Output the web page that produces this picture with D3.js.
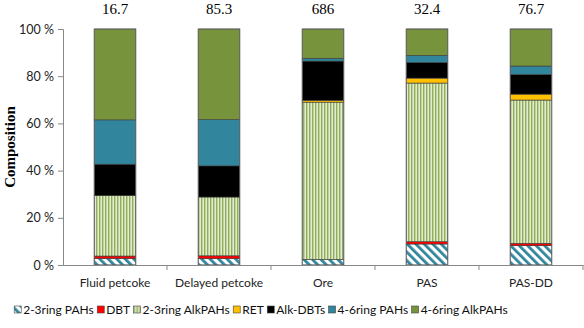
<!DOCTYPE html>
<html>
<head>
<meta charset="utf-8">
<script src="https://cdn.jsdelivr.net/npm/d3@7"></script>
<style>
  body { margin: 0; background: #fff; }
  text { font-family: Lato, "Open Sans", sans-serif; }
</style>
</head>
<body>
<div id="chart"></div>
<script>
// data
const categories = ["Fluid petcoke", "Delayed petcoke", "Ore", "PAS", "PAS-DD"];
const totals = ["16.7", "85.3", "686", "32.4", "76.7"];
const seriesNames = ["2-3ring PAHs", "DBT", "2-3ring AlkPAHs", "RET", "Alk-DBTs", "4-6ring PAHs", "4-6ring AlkPAHs"];
const ring23PAHs    = [2.7, 2.7, 2.4, 8.9, 8.2];
const dbt           = [1.1, 1.2, 0.0, 1.0, 1.0];
const ring23AlkPAHs = [25.6, 24.9, 66.6, 67.2, 60.7];
const ret           = [0.1, 0.0, 0.8, 2.1, 2.5];
const alkDBTs       = [13.2, 13.2, 16.6, 6.6, 8.3];
const ring46PAHs    = [18.8, 19.6, 1.2, 3.0, 3.6];
const ring46AlkPAHs = [38.5, 38.4, 12.4, 11.2, 15.7];
const yTicks = [0, 20, 40, 60, 80, 100];

const seriesValues = [ring23PAHs, dbt, ring23AlkPAHs, ret, alkDBTs, ring46PAHs, ring46AlkPAHs];
const fills = ["url(#hatch)", "#ff0000", "url(#vstripe)", "#ffc000", "#000000", "#31859c", "#77933c"];

const W = 584, H = 328;
const margin = {top: 29, right: 1, bottom: 63, left: 63};
const width = W - margin.left - margin.right;
const height = H - margin.top - margin.bottom;

const svg = d3.select("#chart").append("svg")
    .attr("width", W)
    .attr("height", H);

// patterns
const defs = svg.append("defs");
const hatch = defs.append("pattern")
    .attr("id", "hatch")
    .attr("patternUnits", "userSpaceOnUse")
    .attr("width", 6).attr("height", 6)
    .attr("patternTransform", "rotate(-45)");
hatch.append("rect").attr("width", 6).attr("height", 6).attr("fill", "#fff");
hatch.append("rect").attr("width", 2.8).attr("height", 6).attr("fill", "#31859c");

const vstripe = defs.append("pattern")
    .attr("id", "vstripe")
    .attr("patternUnits", "userSpaceOnUse")
    .attr("width", 3).attr("height", 4);
vstripe.append("rect").attr("width", 3).attr("height", 4).attr("fill", "#e2ebcf");
vstripe.append("rect").attr("width", 1.4).attr("height", 4).attr("fill", "#8fae5a");

const g = svg.append("g")
    .attr("transform", "translate(" + margin.left + "," + margin.top + ")");

const x = d3.scaleBand()
    .domain(categories)
    .range([0, width])
    .paddingInner(0).paddingOuter(0);
const y = d3.scaleLinear()
    .domain([0, 100])
    .range([height, 0]);

const barW = x.bandwidth() * 0.4;

// stack
const table = categories.map((c, i) => {
    const row = {name: c};
    seriesNames.forEach((s, k) => row[s] = seriesValues[k][i]);
    return row;
});
const stacked = d3.stack().keys(seriesNames)(table);

const layers = g.selectAll(".layer")
    .data(stacked)
    .enter().append("g")
    .attr("class", "layer")
    .attr("fill", (d, k) => fills[k]);

layers.selectAll("rect")
    .data(d => d.filter(p => p[1] - p[0] > 0))
    .enter().append("rect")
    .attr("x", d => x(d.data.name) + (x.bandwidth() - barW) / 2)
    .attr("width", barW)
    .attr("y", d => y(d[1]))
    .attr("height", d => y(d[0]) - y(d[1]))
    .attr("stroke", "#3a3a3a")
    .attr("stroke-width", 0.6);

// outer bar outline
g.selectAll(".outline")
    .data(categories)
    .enter().append("rect")
    .attr("class", "outline")
    .attr("x", d => x(d) + (x.bandwidth() - barW) / 2)
    .attr("width", barW)
    .attr("y", y(100))
    .attr("height", y(0) - y(100))
    .attr("fill", "none")
    .attr("stroke", "#6a6a6a")
    .attr("stroke-width", 0.8);

// axes
const yAxis = g.append("g")
    .call(d3.axisLeft(y).tickValues(yTicks).tickSize(5).tickPadding(4).tickFormat(d => d + " %"));
yAxis.selectAll("text").attr("font-size", 12.5).attr("fill", "#222").style("font-family", "Lato, sans-serif");
yAxis.selectAll("line, path").attr("stroke", "#888");

const xAxis = g.append("g")
    .attr("transform", "translate(0," + height + ")")
    .call(d3.axisBottom(x).tickSize(0).tickPadding(13));
xAxis.select("path").attr("stroke", "#888");
xAxis.selectAll("text").attr("font-size", 12).attr("fill", "#222").style("font-family", "Lato, sans-serif");

// boundary ticks on x axis
g.selectAll(".xsep")
    .data(categories)
    .enter().append("line")
    .attr("class", "xsep")
    .attr("x1", d => x(d) + x.bandwidth())
    .attr("x2", d => x(d) + x.bandwidth())
    .attr("y1", height)
    .attr("y2", height + 5)
    .attr("stroke", "#888");

// totals on top
g.selectAll(".total")
    .data(categories)
    .enter().append("text")
    .attr("class", "total")
    .attr("x", d => x(d) + x.bandwidth() / 2)
    .attr("y", -15.5)
    .attr("text-anchor", "middle")
    .style("font-family", "'Liberation Serif', 'Times New Roman', serif")
    .attr("font-size", 15)
    .text((d, i) => totals[i]);

// y label
svg.append("text")
    .attr("transform", "translate(15," + (margin.top + height / 2) + ") rotate(-90)")
    .attr("text-anchor", "middle")
    .style("font-family", "'Liberation Serif', 'Times New Roman', serif")
    .attr("font-weight", "bold")
    .attr("font-size", 15)
    .text("Composition");

// legend
const legend = svg.append("g");
let lx = 0;
seriesNames.forEach((s, k) => {
    const it = legend.append("g");
    it.append("rect")
        .attr("x", 0).attr("y", -4)
        .attr("width", 7).attr("height", 7)
        .attr("fill", fills[k])
        .attr("stroke", "#444")
        .attr("stroke-width", 0.6);
    const t = it.append("text")
        .attr("x", 9).attr("y", 0)
        .attr("dy", "0.35em")
        .attr("font-size", 12)
        .attr("fill", "#111")
        .text(s);
    it.attr("transform", "translate(" + lx + ",0)");
    lx += 9 + t.node().getComputedTextLength() + 3.5;
});
const totalW = lx - 3.5;
legend.attr("transform", "translate(" + (261 - totalW / 2) + ",310)");
</script>
</body>
</html>
